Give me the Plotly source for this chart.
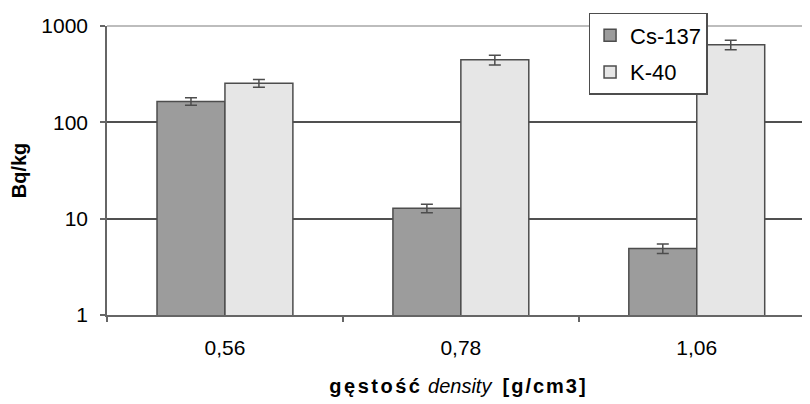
import plotly.graph_objects as go

categories = ["0,56", "0,78", "1,06"]
cs137 = [165, 12.8, 4.9]
cs137_err = [15, 1.3, 0.55]
k40 = [255, 446, 640]
k40_err = [24, 52, 72]

FONT = "Arial, 'Liberation Sans', sans-serif"
EDGE = "#4d4d4d"

fig = go.Figure()
fig.add_trace(go.Bar(
    name="Cs-137", x=categories, y=cs137,
    marker=dict(color="#9c9c9c", line=dict(color=EDGE, width=1.5)),
    error_y=dict(type="data", array=cs137_err, color=EDGE, thickness=1.5, width=6),
    legendgroup="a",
))
fig.add_trace(go.Bar(
    name="K-40", x=categories, y=k40,
    marker=dict(color="#e6e6e6", line=dict(color=EDGE, width=1.5)),
    error_y=dict(type="data", array=k40_err, color=EDGE, thickness=1.5, width=6),
    legendgroup="b",
))

fig.update_layout(
    width=802, height=396,
    margin=dict(l=99, r=0, t=18, b=89),
    paper_bgcolor="white", plot_bgcolor="white",
    font=dict(family=FONT, color="black", size=21),
    barmode="group", bargap=0.424, bargroupgap=0,
    showlegend=True,
    legend=dict(
        x=0.685, y=1.045, xanchor="left", yanchor="top",
        bgcolor="white", bordercolor=EDGE, borderwidth=1.5,
        font=dict(size=22, family=FONT),
        traceorder="grouped", tracegroupgap=5,
    ),
    shapes=[dict(type="line", xref="paper", yref="paper", x0=0, x1=1, y0=1, y1=1,
                 line=dict(color="#bdbdbd", width=2), layer="between")],
)
fig.update_xaxes(
    type="category", range=[-0.5, 2.48],
    showline=True, linecolor="#666666", linewidth=1.5,
    ticks="outside", ticklen=5, tickcolor="#666666", tickwidth=1.5,
    tickson="boundaries", ticklabelstandoff=13,
    showgrid=False,
    title=dict(
        text="<span style='letter-spacing:2.5px'><b>gęstość</b></span> <i>density</i>  <span style='letter-spacing:2px'><b>[g/cm3]</b></span>",
        font=dict(size=20), standoff=21,
    ),
)
fig.update_yaxes(
    type="log", range=[0, 3],
    tickvals=[1, 10, 100, 1000], ticktext=["1", "10", "100", "1000"],
    showline=True, linecolor="#666666", linewidth=1.5,
    ticks="outside", ticklen=5, tickcolor="#666666", tickwidth=1.5,
    ticklabelstandoff=8,
    showgrid=True, gridcolor="#505050", gridwidth=1.5,
    zeroline=False,
    title=dict(text="<b>Bq/kg</b>", font=dict(size=20), standoff=9),
)

fig.write_html("out.html")
